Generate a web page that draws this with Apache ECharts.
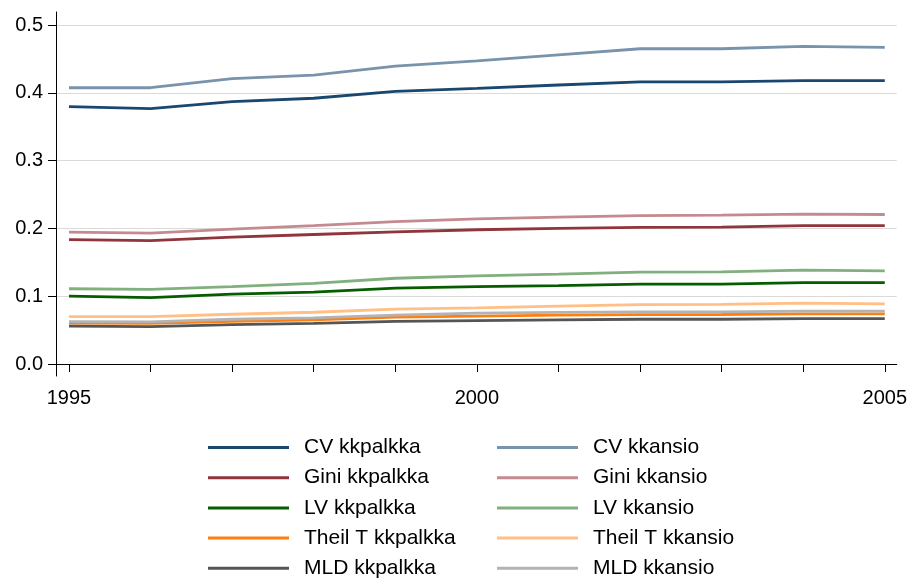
<!DOCTYPE html>
<html>
<head>
<meta charset="utf-8">
<title>Inequality measures 1995-2005</title>
<script src="https://cdn.jsdelivr.net/npm/echarts@6/dist/echarts.min.js"></script>
<style>
  html, body { margin: 0; padding: 0; background: #fff; }
  #chart { width: 910px; height: 579px; }
</style>
</head>
<body>
<div id="chart"></div>
<script>
// years on the x axis
const years = [1995, 1996, 1997, 1998, 1999, 2000, 2001, 2002, 2003, 2004, 2005];
const xTicks = [1995, 1996, 1997, 1998, 1999, 2000, 2001, 2002, 2003, 2004, 2005];
const xLabels = [1995, 2000, 2005];
const yTicks = [0, 0.1, 0.2, 0.3, 0.4, 0.5];

// series values
const cvPalkka = [0.3795, 0.3766, 0.387, 0.392, 0.402, 0.4066, 0.4115, 0.416, 0.416, 0.418, 0.418];
const cvAnsio = [0.4075, 0.4075, 0.421, 0.426, 0.4395, 0.447, 0.456, 0.465, 0.465, 0.4686, 0.467];
const giniPalkka = [0.1835, 0.182, 0.187, 0.191, 0.195, 0.198, 0.2, 0.2015, 0.202, 0.204, 0.204];
const giniAnsio = [0.1945, 0.193, 0.199, 0.204, 0.21, 0.214, 0.2166, 0.219, 0.2195, 0.221, 0.2205];
const lvPalkka = [0.1, 0.098, 0.103, 0.106, 0.112, 0.114, 0.1157, 0.1177, 0.1177, 0.12, 0.12];
const lvAnsio = [0.111, 0.11, 0.114, 0.119, 0.1265, 0.13, 0.1325, 0.1355, 0.136, 0.1385, 0.1375];
const theilPalkka = [0.0605, 0.06, 0.063, 0.065, 0.069, 0.0705, 0.072, 0.0728, 0.073, 0.074, 0.0738];
const theilAnsio = [0.07, 0.07, 0.0734, 0.0763, 0.0808, 0.0827, 0.0855, 0.0876, 0.088, 0.0897, 0.0886];
const mldPalkka = [0.056, 0.055, 0.058, 0.06, 0.063, 0.064, 0.065, 0.066, 0.066, 0.067, 0.067];
const mldAnsio = [0.0625, 0.062, 0.066, 0.068, 0.072, 0.0749, 0.076, 0.077, 0.077, 0.078, 0.078];

const seriesList = [
  { name: 'CV kkpalkka', data: cvPalkka, color: '#1a476f' },
  { name: 'CV kkansio', data: cvAnsio, color: '#7993ad' },
  { name: 'Gini kkpalkka', data: giniPalkka, color: '#90353b' },
  { name: 'Gini kkansio', data: giniAnsio, color: '#c48a8f' },
  { name: 'LV kkpalkka', data: lvPalkka, color: '#055d00' },
  { name: 'LV kkansio', data: lvAnsio, color: '#80b07e' },
  { name: 'Theil T kkpalkka', data: theilPalkka, color: '#ff7f0e' },
  { name: 'Theil T kkansio', data: theilAnsio, color: '#ffbf86' },
  { name: 'MLD kkpalkka', data: mldPalkka, color: '#555555' },
  { name: 'MLD kkansio', data: mldAnsio, color: '#b3b3b3' },
];

const font = '"Liberation Sans", Arial, sans-serif';

function legendBlock(left, names) {
  return {
    orient: 'vertical',
    left: left,
    top: 437,
    height: 200,
    padding: 0,
    icon: 'rect',
    itemWidth: 81,
    itemHeight: 3,
    itemGap: 9.2,
    data: names,
    textStyle: {
      fontFamily: font,
      fontSize: 21,
      lineHeight: 20,
      color: '#000',
      padding: [0, 0, 0, 10],
    },
  };
}

const chart = echarts.init(document.getElementById('chart'));

chart.setOption({
  animation: false,
  backgroundColor: '#fff',
  grid: {
    left: 56,
    right: 13,
    top: 12,
    bottom: 203,
  },
  legend: [
    legendBlock(208, seriesList.filter((s, i) => i % 2 === 0).map(s => s.name)),
    legendBlock(497, seriesList.filter((s, i) => i % 2 === 1).map(s => s.name)),
  ],
  xAxis: {
    type: 'value',
    min: 1994.8407,
    max: 2005.147,
    axisLine: { show: true, lineStyle: { color: '#000', width: 1 } },
    axisTick: { show: true, length: 8, customValues: xTicks, lineStyle: { color: '#000' } },
    axisLabel: {
      customValues: xLabels,
      margin: 12,
      color: '#000',
      fontFamily: font,
      fontSize: 20,
      formatter: v => String(v),
    },
    splitLine: { show: false },
  },
  yAxis: {
    type: 'value',
    min: -0.0177,
    max: 0.5192,
    axisLine: { show: true, lineStyle: { color: '#000', width: 1 } },
    axisTick: { show: true, length: 8, customValues: yTicks, lineStyle: { color: '#000' } },
    axisLabel: {
      customValues: yTicks,
      margin: 13,
      color: '#000',
      fontFamily: font,
      fontSize: 20,
      formatter: v => v.toFixed(1),
    },
    splitLine: { show: true, lineStyle: { color: '#dadada', width: 1.2 } },
  },
  series: seriesList.map(s => ({
    name: s.name,
    type: 'line',
    symbol: 'none',
    data: years.map((y, i) => [y, s.data[i]]),
    color: s.color,
    lineStyle: { color: s.color, width: 2.8 },
  })),
});
</script>
</body>
</html>
